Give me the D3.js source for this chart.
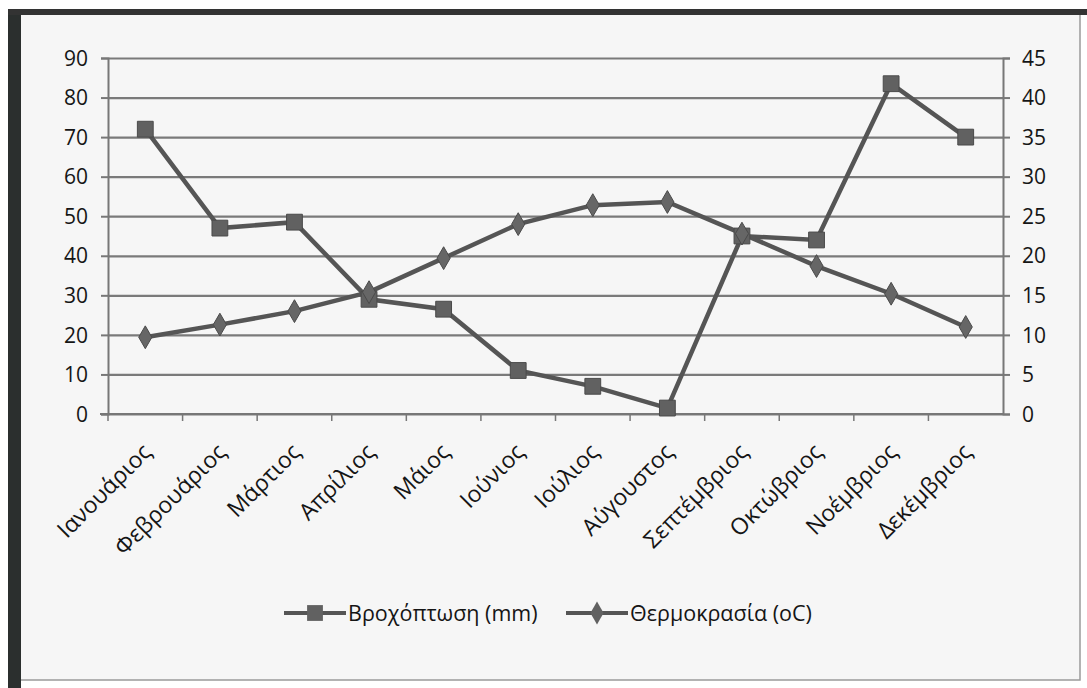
<!DOCTYPE html>
<html>
<head>
<meta charset="utf-8">
<script src="https://cdn.jsdelivr.net/npm/d3@7"></script>
<style>
  body { margin: 0; background: #fff; }
  text { font-family: "Open Sans", "Noto Sans", sans-serif; fill: #151515; }
</style>
</head>
<body>
<div id="chart"></div>
<script>
var months = ["Ιανουάριος", "Φεβρουάριος", "Μάρτιος", "Απρίλιος", "Μάιος", "Ιούνιος",
  "Ιούλιος", "Αύγουστος", "Σεπτέμβριος", "Οκτώβριος", "Νοέμβριος", "Δεκέμβριος"];
var rain = [72, 47, 48.5, 29, 26.5, 11, 7, 1.5, 45, 44, 83.5, 70];
var temp = [9.7, 11.3, 13, 15.4, 19.7, 24, 26.4, 26.8, 22.8, 18.7, 15.2, 11];
var leftTicks = [0, 10, 20, 30, 40, 50, 60, 70, 80, 90];
var rightTicks = [0, 5, 10, 15, 20, 25, 30, 35, 40, 45];
var seriesNames = ["Βροχόπτωση (mm)", "Θερμοκρασία (oC)"];

var svgWidth = 1087;
var svgHeight = 688;

var margin = { top: 58, right: 84, bottom: 274, left: 108 };
var width = svgWidth - margin.left - margin.right;
var height = svgHeight - margin.top - margin.bottom;

var svg = d3.select("#chart")
  .append("svg")
  .attr("width", svgWidth)
  .attr("height", svgHeight);

// scanned frame
svg.append("rect")
  .attr("x", 20).attr("y", 14)
  .attr("width", 1060).attr("height", 666)
  .attr("fill", "#f6f6f6")
  .attr("stroke", "#9a9a9a")
  .attr("stroke-width", 1.5);
svg.append("rect")
  .attr("x", 8).attr("y", 10)
  .attr("width", 13).attr("height", 678)
  .attr("fill", "#2b2f2e");
svg.append("rect")
  .attr("x", 8).attr("y", 9)
  .attr("width", 1079).attr("height", 6)
  .attr("fill", "#333");

var chartGroup = svg.append("g")
  .attr("transform", `translate(${margin.left}, ${margin.top})`);

var xBandScale = d3.scaleBand()
  .domain(months)
  .range([0, width]);

var yLeftScale = d3.scaleLinear()
  .domain([0, 90])
  .range([height, 0]);

var yRightScale = d3.scaleLinear()
  .domain([0, 45])
  .range([height, 0]);

// gridlines
chartGroup.append("g")
  .call(d3.axisLeft(yLeftScale).tickValues(leftTicks).tickSize(-width).tickFormat(""))
  .call(g => g.select(".domain").remove())
  .selectAll("line")
  .attr("stroke", "#7a7a7a")
  .attr("stroke-width", 2.2);

// left axis
var leftAxis = chartGroup.append("g")
  .call(d3.axisLeft(yLeftScale).tickValues(leftTicks).tickSize(7).tickPadding(13));
leftAxis.select(".domain").attr("stroke", "#777").attr("stroke-width", 2);
leftAxis.selectAll(".tick line").attr("stroke", "#777").attr("stroke-width", 2);
leftAxis.selectAll("text").style("font-size", "21px").attr("fill", "#151515").attr("dy", "0.34em");

// right axis
var rightAxis = chartGroup.append("g")
  .attr("transform", `translate(${width}, 0)`)
  .call(d3.axisRight(yRightScale).tickValues(rightTicks).tickSize(7).tickPadding(12));
rightAxis.select(".domain").attr("stroke", "#777").attr("stroke-width", 2);
rightAxis.selectAll(".tick line").attr("stroke", "#777").attr("stroke-width", 2);
rightAxis.selectAll("text").style("font-size", "21px").attr("fill", "#151515").attr("dy", "0.34em");

// x axis, ticks between categories
var bottomAxis = chartGroup.append("g")
  .attr("transform", `translate(0, ${height})`);
bottomAxis.append("line")
  .attr("x1", -8).attr("x2", width)
  .attr("stroke", "#777").attr("stroke-width", 2.2);
bottomAxis.selectAll(".xtick")
  .data(months)
  .enter()
  .append("line")
  .attr("x1", d => xBandScale(d))
  .attr("x2", d => xBandScale(d))
  .attr("y1", 0).attr("y2", 7)
  .attr("stroke", "#777").attr("stroke-width", 1.5);
bottomAxis.selectAll(".xlabel")
  .data(months)
  .enter()
  .append("text")
  .attr("transform", d => `translate(${xBandScale(d) + xBandScale.bandwidth() / 2 - 4}, 28) rotate(-45)`)
  .attr("text-anchor", "end")
  .attr("dy", "0.7em")
  .style("font-size", "23px")
  .text(d => d);

var cx = d => xBandScale(d) + xBandScale.bandwidth() / 2;

// rain line (left axis)
var rainLine = d3.line()
  .x((d, i) => cx(months[i]))
  .y(d => yLeftScale(d));

chartGroup.append("path")
  .datum(rain)
  .attr("d", rainLine)
  .attr("fill", "none")
  .attr("stroke", "#555")
  .attr("stroke-width", 4.5);

// temperature line (right axis)
var tempLine = d3.line()
  .x((d, i) => cx(months[i]))
  .y(d => yRightScale(d));

chartGroup.append("path")
  .datum(temp)
  .attr("d", tempLine)
  .attr("fill", "none")
  .attr("stroke", "#555")
  .attr("stroke-width", 4.5);

var squareSym = d3.symbol().type(d3.symbolSquare).size(250);
var diamondSym = d3.symbol().type(d3.symbolDiamond).size(150);

chartGroup.selectAll(".rainPt")
  .data(rain)
  .enter()
  .append("path")
  .attr("d", squareSym)
  .attr("transform", (d, i) => `translate(${cx(months[i])}, ${yLeftScale(d)})`)
  .attr("fill", "#616161")
  .attr("stroke", "#4a4a4a")
  .attr("stroke-width", 1);

chartGroup.selectAll(".tempPt")
  .data(temp)
  .enter()
  .append("path")
  .attr("d", diamondSym)
  .attr("transform", (d, i) => `translate(${cx(months[i])}, ${yRightScale(d)})`)
  .attr("fill", "#666")
  .attr("stroke", "#4a4a4a")
  .attr("stroke-width", 1);

// legend
var legend = svg.append("g");
var legendItems = [
  { x: 284, name: seriesNames[0], sym: squareSym },
  { x: 566, name: seriesNames[1], sym: diamondSym }
];
legendItems.forEach(function(item) {
  var g = legend.append("g").attr("transform", `translate(${item.x}, 613)`);
  g.append("line")
    .attr("x1", 0).attr("x2", 62)
    .attr("stroke", "#555").attr("stroke-width", 4);
  g.append("path")
    .attr("d", item.sym)
    .attr("transform", "translate(31, 0)")
    .attr("fill", "#616161");
  g.append("text")
    .attr("x", 64)
    .attr("dy", "0.35em")
    .style("font-size", "21.5px")
    .text(item.name);
});
</script>
</body>
</html>
